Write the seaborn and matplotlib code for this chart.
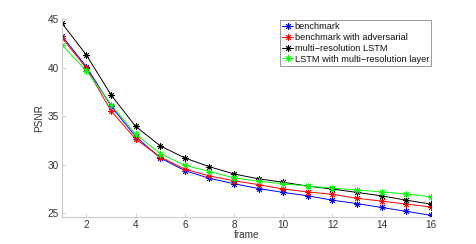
import numpy as np
import pandas as pd
import matplotlib
matplotlib.use("Agg")
import matplotlib.pyplot as plt
import seaborn as sns

# PSNR per predicted frame
frames = list(range(1, 17))
benchmark = [43.3, 40.1, 36.05, 32.9, 30.7, 29.4, 28.6, 28.05, 27.55, 27.15,
             26.8, 26.35, 26.0, 25.6, 25.2, 24.8]
benchmark_adv = [43.1, 39.95, 35.55, 32.65, 30.8, 29.55, 28.85, 28.35, 27.95, 27.5,
                 27.2, 26.95, 26.55, 26.25, 25.95, 25.65]
multires_lstm = [44.6, 41.3, 37.2, 33.95, 31.95, 30.7, 29.8, 29.05, 28.55, 28.2,
                 27.8, 27.5, 27.15, 26.8, 26.35, 25.95]
lstm_multires_layer = [42.35, 39.7, 36.2, 33.15, 31.15, 29.95, 29.3, 28.65, 28.3, 28.05,
                       27.8, 27.6, 27.4, 27.2, 27.0, 26.7]

names = ["benchmark", "benchmark with adversarial",
         "multi\u2212resolution LSTM", "LSTM with multi\u2212resolution layer"]
colors = ["#0000ff", "#ff0000", "#000000", "#00ff00"]
series = [benchmark, benchmark_adv, multires_lstm, lstm_multires_layer]

sns.set_theme(style="ticks")
plt.rcParams["font.family"] = ["Liberation Sans", "DejaVu Sans"]
plt.rcParams["xtick.direction"] = "in"
plt.rcParams["ytick.direction"] = "in"

fig = plt.figure(figsize=(4.76, 2.44), dpi=100)
ax = fig.add_axes([0.13, 0.11, 0.775, 0.815])

# MATLAB-style '*' marker: 8-spoke asterisk
asterisk = (8, 2, 0)
for name, vals, c in zip(names, series, colors):
    sns.lineplot(x=frames, y=vals, color=c, label=name, marker=asterisk,
                 linewidth=0.7, markersize=4.8, markeredgewidth=0.6,
                 markeredgecolor=c, ax=ax)

ax.set_xlim(1, 16)
ax.set_ylim(24.6, 45.1)
ax.set_xticks(range(2, 17, 2))
ax.set_yticks(range(25, 46, 5))
sns.despine(ax=ax)
for s in ["left", "bottom"]:
    ax.spines[s].set_color("#cccccc")
    ax.spines[s].set_linewidth(0.8)
ax.tick_params(colors="#cccccc", labelcolor="#333333", labelsize=7.2,
               length=3, width=0.6, pad=2)
ax.set_xlabel("frame", fontsize=7.2, color="#333333", labelpad=0)
ax.set_ylabel("PSNR", fontsize=7.2, color="#333333", labelpad=3)

leg = ax.legend(loc="upper right", bbox_to_anchor=(1, 0.99), borderaxespad=0,
                fontsize=6.7, handlelength=1.2, handletextpad=0.15,
                labelspacing=0.2, borderpad=0.2, fancybox=False, framealpha=1)
leg.get_frame().set_edgecolor("#999999")
leg.get_frame().set_linewidth(0.7)
for t in leg.get_texts():
    t.set_color("#111111")

fig.savefig("out.png", dpi=100)
